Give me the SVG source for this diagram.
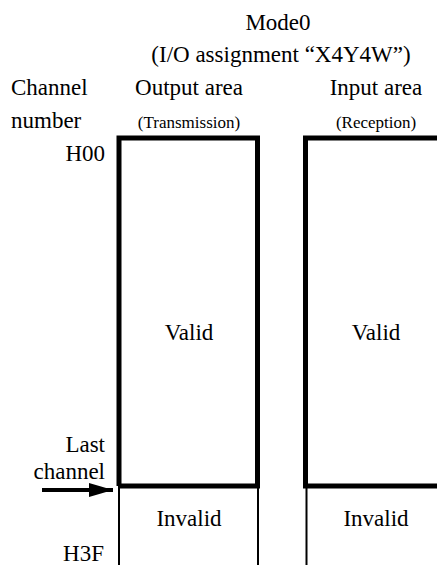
<svg xmlns="http://www.w3.org/2000/svg" width="437" height="565" viewBox="0 0 437 565">
<style>
text{font-family:"Liberation Serif","Times New Roman",serif;fill:#000;font-size:23px}
.s{font-size:17px}
.m{text-anchor:middle}
.e{text-anchor:end}
.thick{fill:none;stroke:#000;stroke-width:5}
.thin{stroke:#000;stroke-width:2}
</style>
<defs>
<marker id="ah" markerWidth="24" markerHeight="14" refX="24" refY="7" orient="auto" markerUnits="userSpaceOnUse">
<path d="M0,0 L24,7 L0,14 Z" fill="#000"/>
</marker>
</defs>
<g id="title">
<text class="m" x="278" y="30">Mode0</text>
<text class="m" x="281" y="62">(I/O assignment “X4Y4W”)</text>
</g>
<g id="labels">
<text x="11" y="95">Channel</text>
<text x="11" y="128">number</text>
<text class="e" x="105" y="161">H00</text>
<text class="e" x="105" y="452">Last</text>
<text class="e" x="105" y="479">channel</text>
<text class="e" x="104" y="561">H3F</text>
</g>
<g id="output-area">
<text class="m" x="189" y="95">Output area</text>
<text class="m s" x="189" y="128">(Transmission)</text>
<path class="thick" d="M119,486 V138 H257.5 V486 H119"/>
<text class="m" x="189" y="340">Valid</text>
<line class="thin" x1="119" y1="486" x2="119" y2="565"/>
<line class="thin" x1="258" y1="486" x2="258" y2="565"/>
<text class="m" x="189" y="526">Invalid</text>
</g>
<g id="input-area">
<text class="m" x="376" y="95">Input area</text>
<text class="m s" x="376" y="128">(Reception)</text>
<path class="thick" d="M445,138 H305.5 V486 H445"/>
<text class="m" x="376" y="340">Valid</text>
<line class="thin" x1="306.5" y1="486" x2="306.5" y2="565"/>
<text class="m" x="376" y="526">Invalid</text>
</g>
<g id="connectors">
<line x1="42" y1="490" x2="113" y2="490" stroke="#000" stroke-width="4" marker-end="url(#ah)"/>
</g>
</svg>
